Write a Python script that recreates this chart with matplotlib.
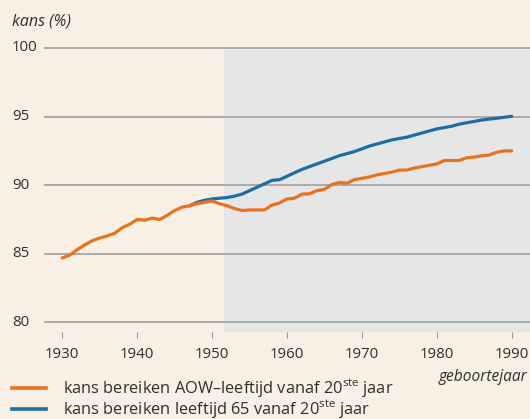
import numpy as np
import matplotlib
matplotlib.use("Agg")
import matplotlib.pyplot as plt
from matplotlib.transforms import blended_transform_factory

# ----------------------------------------------------------------------
# data
# ----------------------------------------------------------------------
years_aow = list(range(1930, 1991))
kans_aow = [84.7, 84.9, 85.3, 85.65, 85.95, 86.15, 86.3, 86.5, 86.9, 87.15,
            87.5, 87.45, 87.6, 87.5, 87.8, 88.15, 88.4, 88.5, 88.65, 88.75,
            88.85, 88.65, 88.5, 88.3, 88.15, 88.2, 88.2, 88.2, 88.55, 88.7,
            89.0, 89.05, 89.35, 89.37, 89.6, 89.7, 90.05, 90.2, 90.15, 90.4,
            90.5, 90.6, 90.75, 90.85, 90.95, 91.1, 91.1, 91.25, 91.35, 91.45,
            91.55, 91.8, 91.8, 91.8, 92.0, 92.05, 92.15, 92.2, 92.4, 92.5,
            92.5]

years_65 = list(range(1947, 1991))
kans_65 = [88.5, 88.75, 88.9, 89.0, 89.05, 89.1, 89.2, 89.35, 89.6, 89.85,
           90.1, 90.35, 90.4, 90.65, 90.9, 91.15, 91.35, 91.55, 91.75, 91.95,
           92.15, 92.3, 92.45, 92.65, 92.85, 93.0, 93.15, 93.3, 93.4, 93.5,
           93.65, 93.8, 93.95, 94.1, 94.2, 94.3, 94.45, 94.55, 94.65, 94.75,
           94.82, 94.88, 94.95, 95.02]

prognose_start = 1951.6
y_ticks = [80, 85, 90, 95, 100]
x_ticks = [1930, 1940, 1950, 1960, 1970, 1980, 1990]

label_aow = "kans bereiken AOW\u2013leeftijd vanaf 20$^{\\mathrm{ste}}$ jaar"
label_65 = "kans bereiken leeftijd 65 vanaf 20$^{\\mathrm{ste}}$ jaar"

# ----------------------------------------------------------------------
BG = "#F8F0E5"
SHADE = "#E6E6E6"
GRID = "#ABABAB"
TXT = "#2E2E2E"
ORANGE = "#E8731F"
BLUE = "#1C6EA4"
FONT = "Open Sans"

plt.rcParams["font.family"] = [FONT, "DejaVu Sans"]
plt.rcParams["mathtext.fontset"] = "custom"
plt.rcParams["mathtext.rm"] = FONT

fig = plt.figure(figsize=(5.3, 4.19), dpi=100, facecolor=BG)
ax = fig.add_axes([45 / 530, 1 - 332 / 419, 1 - 45 / 530, (332 - 48) / 419])
ax.set_facecolor(BG)
ax.set_xlim(1927.7, 1992.45)
ax.set_ylim(79.3, 100)

ax.axvspan(prognose_start, 1992.45, color=SHADE, lw=0, zorder=0)
for v in y_ticks:
    ax.axhline(v, color=GRID, lw=1.4, zorder=1, clip_on=False)

ax.plot(years_65, kans_65, color=BLUE, lw=2.3, zorder=3,
        solid_capstyle="round")
ax.plot(years_aow, kans_aow, color=ORANGE, lw=2.3, zorder=4,
        solid_capstyle="round")

for s in ax.spines.values():
    s.set_visible(False)

ax.set_xticks(x_ticks)
ax.set_xticklabels([str(x) for x in x_ticks], fontsize=10.8, color=TXT)
ax.tick_params(axis="x", length=4, width=0.8, color="#9A9A9A", pad=7)
ax.set_yticks([])

# y tick labels, left aligned at the figure edge
tr = blended_transform_factory(fig.transFigure, ax.transData)
for v in y_ticks:
    ax.text(12 / 530, v, str(v), transform=tr, ha="left", va="center",
            fontsize=10.8, color=TXT)

fig.text(12 / 530, 1 - 22 / 419, "kans (%)", ha="left", va="center",
         fontsize=11.5, style="italic", color=TXT)
fig.text(527 / 530, 1 - 377 / 419, "geboortejaar", ha="right", va="center",
         fontsize=11.2, style="italic", color=TXT)

# legend drawn by hand at the bottom
for ypix, col, lab in [(388, ORANGE, label_aow), (409, BLUE, label_65)]:
    yf = 1 - ypix / 419
    fig.add_artist(plt.Line2D([12 / 530, 46 / 530], [yf, yf], color=col,
                              lw=2.6, transform=fig.transFigure))
    fig.text(63 / 530, yf, lab, ha="left", va="center", fontsize=11.8,
             color=TXT)

fig.savefig("out.png", dpi=100, facecolor=BG)
